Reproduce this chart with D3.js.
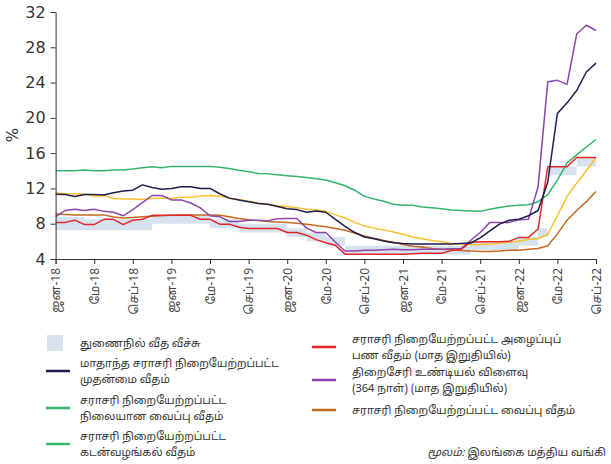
<!DOCTYPE html>
<html>
<head>
<meta charset="utf-8">
<script src="https://cdn.jsdelivr.net/npm/d3@7"></script>
<style>
  body { margin: 0; background: #fff; }
  text { font-family: "Noto Sans Tamil", "Latha", "DejaVu Sans", sans-serif; }
  .num text { font-family: "DejaVu Sans", sans-serif; }
</style>
</head>
<body>
<script>
// months Jan-18 .. Sep-22 (index 0..56)
var tickIdx = [0, 4, 8, 12, 16, 20, 24, 28, 32, 36, 40, 44, 48, 52, 56];
var tickLabels = ["ஜன-18", "மே-18", "செப்-18", "ஜன-19", "மே-19", "செப்-19", "ஜன-20", "மே-20",
                  "செப்-20", "ஜன-21", "மே-21", "செப்-21", "ஜன-22", "மே-22", "செப்-22"];
var yTicks = [4, 8, 12, 16, 20, 24, 28, 32];

// standing facility corridor
var sdfr = [7.25,7.25,7.25,7.25,7.25,7.25,7.25,7.25,7.25,7.25,8,8,8,8,8,8,7.5,7.5,7.5,7,7,7,7,7,
            6.5,6.5,6,6,5.5,5.5,4.5,4.5,4.5,4.5,4.5,4.5,4.5,4.5,4.5,4.5,4.5,4.5,4.5,5,5,5,5,5,
            5.5,5.5,6.5,13.5,13.5,13.5,14.5,14.5,14.5];
var slfr = [8.75,8.75,8.75,8.5,8.5,8.5,8.5,8.5,8.5,8.5,9,9,9,9,9,9,8.5,8.5,8.5,8,8,8,8,8,
            7.5,7.5,7,7,6.5,6.5,5.5,5.5,5.5,5.5,5.5,5.5,5.5,5.5,5.5,5.5,5.5,5.5,5.5,6,6,6,6,6,
            6.5,6.5,7.5,14.5,14.5,14.5,15.5,15.5,15.5];

var awpr = [11.33,11.3,11.08,11.3,11.3,11.25,11.5,11.7,11.8,12.4,12.1,11.9,12.0,12.2,12.2,12.0,12.0,11.4,
            10.9,10.7,10.5,10.3,10.2,9.95,9.7,9.6,9.3,9.45,9.3,8.5,7.7,7.0,6.5,6.3,6.05,5.85,5.75,5.7,
            5.7,5.7,5.7,5.7,5.75,5.8,6.4,7.2,7.95,8.4,8.5,8.9,9.5,12.7,20.5,21.7,23.1,25.2,26.2];
var awlr = [14.0,14.0,14.0,14.1,14.0,14.0,14.1,14.1,14.2,14.35,14.45,14.35,14.5,14.5,14.5,14.5,14.5,14.4,
            14.25,14.05,13.9,13.7,13.65,13.55,13.45,13.35,13.25,13.1,12.95,12.65,12.3,11.8,11.1,10.8,10.55,10.2,
            10.1,10.1,9.9,9.8,9.7,9.55,9.5,9.45,9.4,9.65,9.85,10.0,10.1,10.15,10.5,11.3,12.95,14.9,15.8,16.7,17.55];
var awfdr = [11.5,11.4,11.4,11.35,11.15,11.2,10.85,10.8,10.8,10.75,10.85,10.9,10.9,11.0,11.0,11.15,11.2,11.1,
             10.9,10.75,10.55,10.35,10.2,10.05,9.95,9.8,9.65,9.55,9.4,9.0,8.65,8.15,7.75,7.5,7.3,7.05,
             6.8,6.5,6.3,6.1,5.95,5.75,5.7,5.65,5.65,5.7,5.8,5.9,6.05,6.2,6.3,6.8,8.9,11.1,12.6,14.0,15.5];
var awdr = [9.1,9.05,9.0,9.0,9.0,9.0,8.75,8.65,8.7,8.8,8.85,8.9,8.95,9.0,9.0,9.0,9.0,8.95,
            8.8,8.6,8.45,8.35,8.25,8.2,8.15,8.05,7.95,7.8,7.65,7.45,7.25,6.95,6.6,6.35,6.1,5.9,
            5.65,5.45,5.35,5.2,5.1,5.05,4.95,4.9,4.85,4.85,4.9,5.0,5.0,5.1,5.2,5.5,6.85,8.4,9.5,10.5,11.65];
var awcmr = [8.15,8.15,8.4,7.9,7.9,8.5,8.5,7.9,8.4,8.5,8.95,8.95,8.95,8.95,8.95,8.5,8.5,7.95,
             7.95,7.6,7.45,7.45,7.45,7.45,7.0,7.0,6.7,6.2,5.85,5.55,4.55,4.55,4.55,4.55,4.55,4.55,
             4.55,4.6,4.65,4.65,4.65,4.95,5.1,5.9,5.95,5.95,5.95,6.0,6.45,6.45,7.4,14.45,14.45,14.45,15.5,15.5,15.5];
var tbill = [8.8,9.5,9.65,9.5,9.65,9.4,9.3,8.9,9.6,10.4,11.2,11.2,10.7,10.7,10.35,9.8,8.9,8.8,
             8.25,8.25,8.4,8.4,8.35,8.55,8.6,8.6,7.5,7.0,7.0,5.9,4.9,4.9,5.0,5.0,5.05,5.1,
             5.05,5.05,5.1,5.1,5.1,5.15,5.15,6.1,7.0,8.15,8.15,8.15,8.45,8.5,12.2,24.1,24.25,23.8,29.5,30.5,29.9];

var width = 611, height = 464;
var svg = d3.select("body").append("svg")
    .attr("width", width)
    .attr("height", height);

var x = d3.scaleLinear().domain([0, 56]).range([55.6, 596]);
var y = d3.scaleLinear().domain([4, 32]).range([259, 12]);

// corridor band (stepped)
var band = sdfr.map(function(d, i) { return {i: i, lo: d, hi: slfr[i]}; });
svg.append("path")
    .datum(band)
    .attr("fill", "#d6e3ee")
    .attr("d", d3.area()
      .curve(d3.curveStepAfter)
      .x(function(d) { return x(d.i); })
      .y0(function(d) { return y(d.lo); })
      .y1(function(d) { return y(d.hi); }));

var series = [
  {values: awlr,  color: "#34b56a"},
  {values: awfdr, color: "#fdbf2d"},
  {values: awdr,  color: "#c46a1f"},
  {values: tbill, color: "#8e44ad"},
  {values: awcmr, color: "#e2262b"},
  {values: awpr,  color: "#1e1b4f"}
];

var line = d3.line()
    .x(function(d, i) { return x(i); })
    .y(function(d) { return y(d); });

series.forEach(function(s) {
  svg.append("path")
      .datum(s.values)
      .attr("fill", "none")
      .attr("stroke", s.color)
      .attr("stroke-width", 1.5)
      .attr("stroke-linejoin", "round")
      .attr("d", line);
});

// y axis
var yAxis = svg.append("g")
    .attr("class", "num")
    .attr("transform", "translate(55.6,0)")
    .call(d3.axisLeft(y).tickValues(yTicks).tickSize(5).tickPadding(5));
yAxis.selectAll("path, line").attr("stroke", "#333");
yAxis.selectAll("text").attr("font-size", 16).attr("fill", "#333");

// x axis
var xAxis = svg.append("g")
    .attr("transform", "translate(0,259)")
    .call(d3.axisBottom(x).tickValues(tickIdx).tickSize(5).tickFormat(function(d, i) { return tickLabels[i]; }));
xAxis.selectAll("path, line").attr("stroke", "#333");
xAxis.selectAll("text")
    .attr("font-size", 12)
    .attr("fill", "#444")
    .attr("text-anchor", "end")
    .attr("transform", "rotate(-90)")
    .attr("x", -9)
    .attr("y", 0)
    .attr("dy", "0.35em");

svg.append("text")
    .attr("transform", "translate(18,135) rotate(-90)")
    .attr("text-anchor", "middle")
    .attr("font-size", 15)
    .attr("fill", "#333")
    .style("font-family", "DejaVu Sans, sans-serif")
    .text("%");

// legend
var legendLeft = [
  {kind: "box",  color: "#d6e3ee", lines: ["துணைநில் வீத வீச்சு"], y: 343},
  {kind: "line", color: "#1e1b4f", lines: ["மாதாந்த சராசரி நிறையேற்றப்பட்ட", "முதன்மை வீதம்"], y: 371},
  {kind: "line", color: "#34b56a", lines: ["சராசரி நிறையேற்றப்பட்ட", "நிலையான வைப்பு வீதம்"], y: 408},
  {kind: "line", color: "#34b56a", lines: ["சராசரி நிறையேற்றப்பட்ட", "கடன்வழங்கல் வீதம்"], y: 444}
];
var legendRight = [
  {kind: "line", color: "#e2262b", lines: ["சராசரி நிறையேற்றப்பட்ட அழைப்புப்", "பண வீதம் (மாத இறுதியில்)"], y: 347},
  {kind: "line", color: "#8e44ad", lines: ["திறைசேரி உண்டியல் விளைவு", "(364 நாள்) (மாத இறுதியில்)"], y: 380},
  {kind: "line", color: "#c46a1f", lines: ["சராசரி நிறையேற்றப்பட்ட வைப்பு வீதம்"], y: 410}
];

function drawLegend(items, x0, tx) {
  items.forEach(function(it) {
    if (it.kind === "box") {
      svg.append("rect").attr("x", x0).attr("y", it.y - 8).attr("width", 16).attr("height", 16)
        .attr("fill", it.color);
    } else {
      svg.append("line").attr("x1", x0 - 1).attr("x2", x0 + 23).attr("y1", it.y).attr("y2", it.y)
        .attr("stroke", it.color).attr("stroke-width", 2.5);
    }
    var n = it.lines.length;
    it.lines.forEach(function(t, k) {
      svg.append("text")
        .attr("x", tx)
        .attr("y", it.y + (k - (n - 1) / 2) * 16)
        .attr("dy", "0.35em")
        .attr("font-size", 11)
        .attr("fill", "#333")
        .text(t);
    });
  });
}
drawLegend(legendLeft, 47, 80);
drawLegend(legendRight, 313, 352);

var src = svg.append("text")
    .attr("x", 606)
    .attr("y", 452)
    .attr("dy", "0.35em")
    .attr("text-anchor", "end")
    .attr("font-size", 11)
    .attr("fill", "#333");
src.append("tspan").attr("font-style", "italic").text("மூலம்:");
src.append("tspan").text(" இலங்கை மத்திய வங்கி");
</script>
</body>
</html>
